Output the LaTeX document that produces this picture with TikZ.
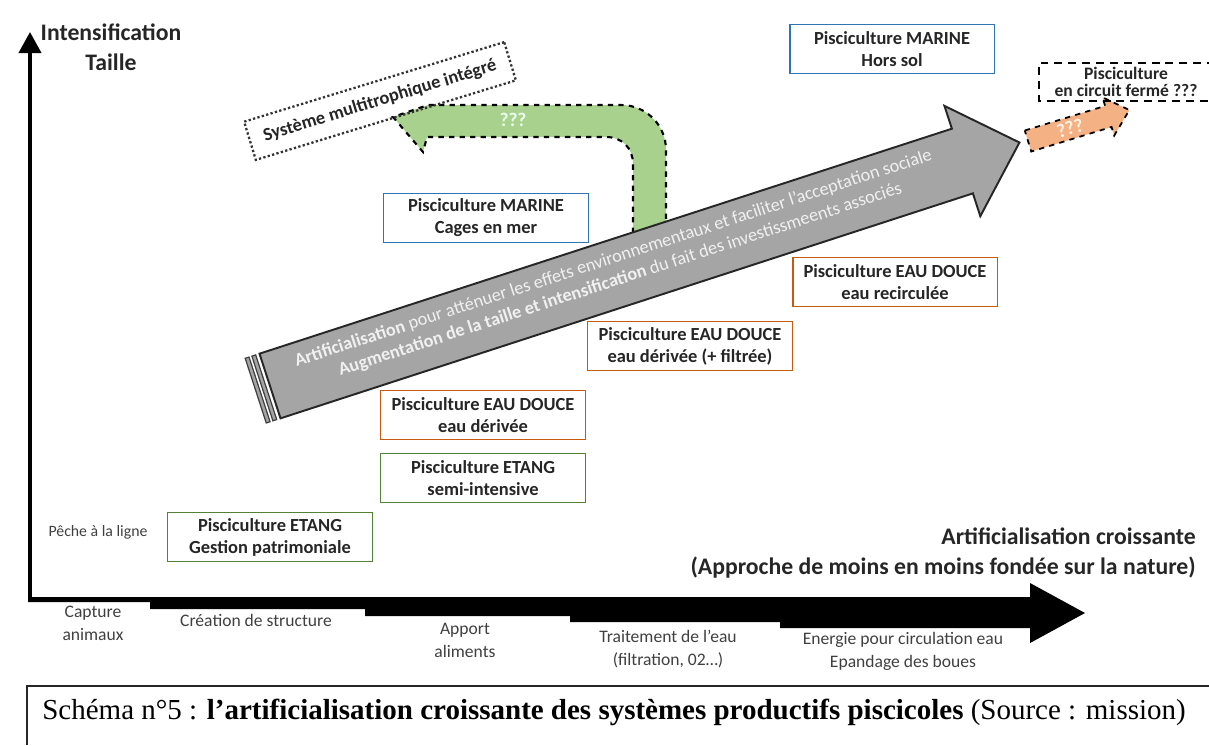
\documentclass[tikz,border=0pt]{standalone}
\usepackage{fontspec}
\setmainfont{Carlito}
\newfontfamily\capfont{Liberation Serif}
\usetikzlibrary{arrows.meta,positioning}

\definecolor{boxblue}{HTML}{2E75B6}
\definecolor{boxorange}{HTML}{C55A11}
\definecolor{boxgreen}{HTML}{548235}
\definecolor{arrowgrey}{HTML}{A5A5A5}
\definecolor{arrowgreen}{HTML}{A9D18E}
\definecolor{arroworange}{HTML}{F4B183}
\definecolor{inkgrey}{HTML}{262626}

\begin{document}
\begin{tikzpicture}[x=0.02cm, y=-0.02cm,
    pisci/.style={draw, line width=1.1pt, align=center, text=inkgrey,
      font=\fontsize{10.5}{12.5}\selectfont\bfseries,
      minimum width=4.1cm, minimum height=0.98cm, inner sep=0pt, fill=white},
    marine/.style={pisci, draw=boxblue},
    douce/.style={pisci, draw=boxorange},
    etang/.style={pisci, draw=boxgreen},
    axislabel/.style={font=\fontsize{13.5}{17}\selectfont\bfseries, text=inkgrey,
      align=center, inner sep=0pt},
    etape/.style={font=\fontsize{10}{13}\selectfont, text=black!75, align=center,
      inner sep=0pt},
    fleche/.style={line width=1.2pt, dashed, draw=black},
    qmark/.style={font=\fontsize{11}{13}\selectfont\bfseries, inner sep=0pt}
  ]
    \useasboundingbox (0,0) rectangle (1209,745);
    \clip (0,0) rectangle (1209,745);

    % axes
    \coordinate (yfoot) at (30,600);
    \coordinate (ytip) at (30,32);
    \draw[line width=0.08cm, -{Triangle[width=0.44cm,length=0.42cm]}] (yfoot) -- (ytip);
    \fill[black] (28,597) -- (1030,597) -- (1030,583) -- (1085,613) -- (1030,643)
      -- (1030,628) -- (780,628) -- (780,622) -- (570,622) -- (570,616)
      -- (365,616) -- (365,609) -- (150,609) -- (150,602) -- (28,602) -- cycle;

    \node[axislabel] (intens) at (111,47) {Intensification\\Taille};
    \node[axislabel, anchor=east, align=right] (artcroiss) at (1196,553)
      {Artificialisation croissante\\(Approche de moins en moins fondée sur la nature)};

    \node[etape] (capture) at (93,623) {Capture\\animaux};
    \node[etape] (creation) at (256,620) {Création de structure};
    \node[etape] (apport) at (465,640) {Apport\\aliments};
    \node[etape] (traitement) at (668,649) {Traitement de l'eau\\(filtration, 02…)};
    \node[etape] (energie) at (903,651) {Energie pour circulation eau\\Epandage des boues};
    \node[etape, font=\fontsize{9}{11}\selectfont] (peche) at (98,532) {Pêche à la ligne};

    % fleche verte
    \fill[arrowgreen] (666,240) -- (666,150) .. controls (666,125) and (646,105) .. (621,105)
      -- (428,105) -- (393,117) -- (423,152) -- (427,137) -- (606,137)
      .. controls (622,137) and (633,148) .. (633,164) -- (633,240) -- cycle;
    \draw[fleche] (666,240) -- (666,150) .. controls (666,125) and (646,105) .. (621,105)
      -- (428,105) -- (393,117) -- (423,152) -- (427,137) -- (606,137)
      .. controls (622,137) and (633,148) .. (633,164) -- (633,240);
    \node[qmark, text=green!8] (qvert) at (513,120) {???};

    \node[draw=black!80, line width=1.3pt, dash pattern=on 1.3pt off 1.3pt, rotate=17,
      minimum width=5.44cm, minimum height=0.8cm, text=inkgrey,
      font=\fontsize{10.5}{12.5}\selectfont\bfseries] (multi) at (380,101)
      {Système multitrophique intégré};

    % grande fleche grise
    \begin{scope}[shift={(270,386)}, rotate=18]
      \foreach \s in {-15,-8} {
        \draw[fill=arrowgrey, draw=black!75, line width=0.7pt] (\s,-34) rectangle (\s+4,34);
      }
      \draw[fill=arrowgrey, draw=black!85, line width=1.1pt] (0,-34) -- (728,-34) -- (728,-58)
        -- (788,0) -- (728,58) -- (728,34) -- (0,34) -- cycle;
      \node[rotate=18, text=white!88!gray, align=center, inner sep=0pt,
        font=\fontsize{10.4}{12.6}\selectfont] (artif) at (366,-4)
        {\textbf{Artificialisation} pour atténuer les effets environnementaux et faciliter l'acceptation sociale\\
         \textbf{Augmentation de la taille et intensification} du fait des investissmeents associés};
    \end{scope}

    % petite fleche orange
    \begin{scope}[shift={(1028,141)}, rotate=17]
      \fill[arroworange] (0,-11) -- (84,-11) -- (84,-20) -- (106,0) -- (84,20) -- (84,11)
        -- (0,11) -- cycle;
      \draw[fleche, line width=1pt] (0,-11) -- (84,-11) -- (84,-20) -- (106,0) -- (84,20)
        -- (84,11) -- (0,11) -- cycle;
      \node[qmark, rotate=17, text=orange!10] (qorange) at (44,0) {???};
    \end{scope}

    % boites
    \node[marine] (horssol) at (892,49) {Pisciculture MARINE\\Hors sol};
    \node[align=center, text=inkgrey, inner sep=0pt,
      font=\fontsize{10}{10}\selectfont\bfseries] (ferme) at (1126,82)
      {Pisciculture\\en circuit fermé ???};
    \draw[line width=1.1pt, dash pattern=on 4.5pt off 3.4pt] (1215,63) -| (1039,101) -- (1215,101);
    \node[marine] (cages) at (486,218) {Pisciculture MARINE\\Cages en mer};
    \node[douce] (recirc) at (895,282) {Pisciculture EAU DOUCE\\eau recirculée};
    \node[douce] (filtree) at (690,346) {Pisciculture EAU DOUCE\\eau dérivée (+ filtrée)};
    \node[douce] (derivee) at (483,415) {Pisciculture EAU DOUCE\\eau dérivée};
    \node[etang] (semi) at (483,478) {Pisciculture ETANG\\semi-intensive};
    \node[etang] (patrim) at (270,537) {Pisciculture ETANG\\Gestion patrimoniale};

    % legende
    \draw[line width=1.2pt, black!85] (1209,686) -- (27,686) -- (27,745);
    \node[anchor=west, inner sep=0pt, font=\capfont\fontsize{16.5}{19}\selectfont] (legende) at (42,712)
      {Schéma n°5 : \textbf{l’artificialisation croissante des systèmes productifs piscicoles} (Source : mission)};
\end{tikzpicture}
\end{document}
